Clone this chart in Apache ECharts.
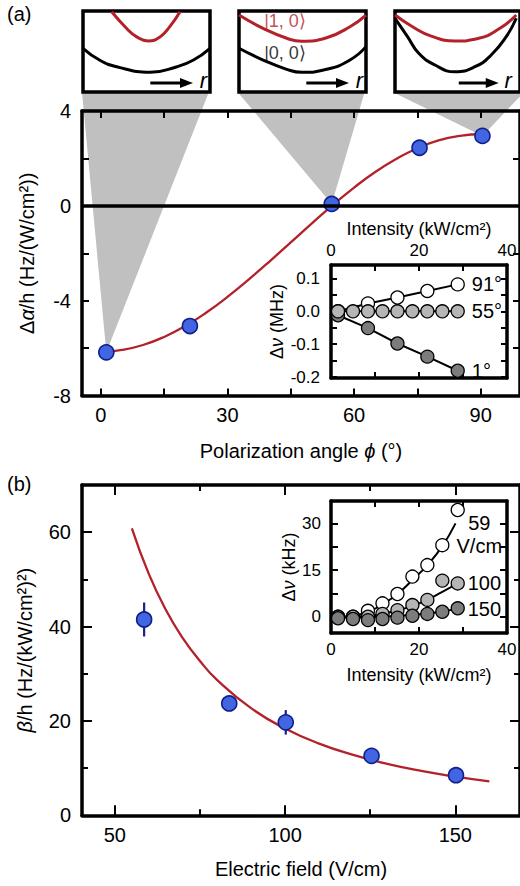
<!DOCTYPE html>
<html><head><meta charset="utf-8">
<script src="https://cdn.jsdelivr.net/npm/echarts@6/dist/echarts.min.js"></script>
<style>html,body{margin:0;padding:0;background:#fff}#c{width:520px;height:886px}</style>
</head><body><div id="c"></div>
<script>
// ================= DATA =================
// (a) main: polarizability difference vs polarization angle
const phiPoints = [1.3, 21.1, 54.7, 75.5, 90.4];
const dAlphaPoints = [-6.18, -5.07, 0.08, 2.45, 2.95];
const phiCurve = [1, 5, 10, 15, 20, 25, 30, 35, 40, 45, 50, 55, 60, 65, 70, 75, 80, 85, 90, 92];
const dAlphaCurve = [-6.15, -6.08, -5.87, -5.53, -5.07, -4.50, -3.84, -3.11, -2.34, -1.54, -0.74, 0.04, 0.77, 1.43, 1.98, 2.43, 2.76, 2.95, 3.02, 3.02];
// (a) shaded wedges linking the potential sketches to data points
const wedgeApexPhi = [1.3, 54.7, 90.4];
const wedgeApexVal = [-6.18, 0.08, 2.95];
const wedgeBaseLeft = [-4.46, 32.4, 69.1];
const wedgeBaseRight = [25.6, 62.5, 100.3];
const wedgeBaseVal = 4.8;
// (a) axis ticks
const phiTicks = [0, 15, 30, 45, 60, 75, 90];
const phiLabels = [0, 30, 60, 90];
const alphaTicks = [-8, -6, -4, -2, 0, 2, 4];
const alphaLabels = [-8, -4, 0, 4];
// (a) potential sketches (normalized r, energy) for the three boxes
const pot1Red = [[0.226,0.99],[0.344,0.784],[0.423,0.68],[0.514,0.63],[0.606,0.68],[0.685,0.81],[0.764,0.99]];
const pot1Black = [[0,0.54],[0.13,0.395],[0.265,0.312],[0.53,0.243],[0.74,0.312],[0.87,0.395],[1,0.54]];
const pot2Red = [[0,0.95],[0.19,0.786],[0.376,0.663],[0.494,0.627],[0.69,0.67],[0.874,0.806],[1,0.95]];
const pot2Black = [[0,0.54],[0.19,0.395],[0.376,0.28],[0.494,0.243],[0.69,0.28],[0.874,0.395],[1,0.56]];
const pot3Red = [[0,0.95],[0.14,0.806],[0.29,0.69],[0.48,0.63],[0.67,0.663],[0.84,0.786],[0.97,0.95]];
const pot3Black = [[0,0.91],[0.1,0.683],[0.19,0.478],[0.32,0.333],[0.48,0.25],[0.64,0.312],[0.77,0.457],[0.89,0.683],[0.97,0.91]];
const stateLabels = ['|1, 0\u27E9', '|0, 0\u27E9'];
// (a) inset: frequency shift vs intensity
const intensityA = [1.6, 8.4, 15.1, 21.9, 28.8];
const shift91 = [0, 0.024, 0.042, 0.062, 0.082];
const shift1 = [-0.012, -0.051, -0.098, -0.138, -0.181];
const intensityA55 = [1.6, 5.0, 8.4, 11.7, 15.1, 18.5, 21.9, 25.3, 28.8];
const shift55 = [0, 0, 0, 0, 0, 0, 0, 0, 0];
const angleLabels = ['91°', '55°', '1°'];
const intTicks = [10, 20, 30];
const intLabels = [0, 20, 40];
const mhzTicks = [-0.2, -0.15, -0.1, -0.05, 0, 0.05, 0.1];
const mhzLabels = [-0.2, -0.1, 0, 0.1];
// (b) main: beta vs electric field
const fieldPoints = [58.6, 83.6, 100.2, 125.4, 150.2];
const betaPoints = [41.5, 23.7, 19.7, 12.6, 8.5];
const betaErr = [3.6, 1.0, 2.6, 0.6, 0.6];
const fieldCurve = [55, 60, 65, 70, 75, 80, 90, 100, 110, 120, 130, 140, 150, 160];
const betaCurve = [60.8, 51.1, 43.5, 37.5, 32.7, 28.7, 22.7, 18.4, 15.2, 12.8, 10.9, 9.4, 8.2, 7.2];
const fieldMajor = [50, 100, 150];
const fieldMinor = [75, 125];
const betaMajor = [20, 40, 60];
const betaMinor = [10, 30, 50];
const betaLabels = [0, 20, 40, 60];
// (b) inset: frequency shift vs intensity at three fields
const intensityB = [1.6, 5.0, 8.4, 11.7, 15.1, 18.5, 21.9, 25.3, 28.8];
const shift59 = [0, 0, 1.9, 4.3, 7.3, 12.9, 16.6, 23.0, 34.3];
const shift100 = [0, 0, 0, 0.9, 2.1, 3.75, 5.4, 11.6, 10.7];
const shift150 = [-0.5, -0.75, -1.1, -0.75, -0.3, 0.3, 0.9, 1.6, 2.7];
const fit59I = [1.6, 5.0, 8.4, 11.7, 15.1, 18.5, 21.9, 25.3, 28.3];
const fit59V = [0, 0.3, 1.5, 4.0, 7.3, 11.8, 16.6, 22.7, 30.0];
const fit100I = [1.6, 5.0, 8.4, 11.7, 15.1, 18.5, 21.9, 25.3, 28.8];
const fit100V = [0, 0, 0.3, 1.0, 2.0, 3.5, 5.4, 8.0, 10.7];
const fit150I = [1.6, 5.0, 8.4, 11.7, 15.1, 18.5, 21.9, 25.3, 28.8];
const fit150V = [-0.3, -0.3, -0.2, 0, 0.3, 0.6, 1.0, 1.7, 2.6];
const fieldLabels = ['59', 'V/cm', '100', '150'];
const khzTicks = [0, 7.5, 15, 22.5, 30];
const khzLabels = [0, 15, 30];

// ================= CHART =================
const FF = '"Liberation Sans", Arial, Helvetica, sans-serif';
const RED = '#b3212a';
const zip = (a, b) => a.map((v, i) => [v, b[i]]);

function ax(o) {
  return {
    type: 'value', gridIndex: o.g, position: o.pos, min: o.min, max: o.max, z: o.z || 3,
    axisLine: { show: o.line !== false, onZero: false, lineStyle: { color: '#000', width: 3.5 } },
    axisTick: { show: !!o.ticks, inside: true, customValues: o.ticks || [], length: o.tl || 7, lineStyle: { color: '#000', width: 2 } },
    axisLabel: o.labels ? { show: true, customValues: o.labels, margin: o.lm, fontSize: o.fs || 20, color: '#000', fontFamily: FF,
      formatter: o.fmt || (v => String(v)) } : { show: false },
    splitLine: { show: false },
    name: o.name || '', nameLocation: 'middle', nameGap: o.ng || 0,
    nameTextStyle: { fontSize: o.nfs || 20, color: '#000', fontFamily: FF,
      rich: { i: { fontStyle: 'italic', fontSize: o.nfs || 20, fontFamily: FF, color: '#000' } } }
  };
}
const hid = g => ({ type: 'value', gridIndex: g, min: 0, max: 1, show: false });

const boxGrid = (left, w) => ({ left: left, top: 11, width: w, height: 81, show: true, borderColor: '#000', borderWidth: 3.5, backgroundColor: '#fff', z: 4 });

const xAxes = [
  hid(0), hid(1), hid(2),
  ax({ g: 3, pos: 'bottom', min: -4.46, max: 99.3, ticks: phiTicks, labels: phiLabels, lm: 9, name: 'Polarization angle {i|\u03D5} (°)', ng: 45 }),
  ax({ g: 3, pos: 'top', min: -4.46, max: 99.3, ticks: phiTicks }),
  ax({ g: 4, pos: 'top', min: 0, max: 40, ticks: intTicks, tl: 6, labels: intLabels, lm: 6, fs: 17, name: 'Intensity (kW/cm²)', nfs: 18, ng: 27, z: 5 }),
  ax({ g: 4, pos: 'bottom', min: 0, max: 40, ticks: intTicks, tl: 6, z: 5 }),
  ax({ g: 5, pos: 'bottom', min: 40.35, max: 169, ticks: fieldMajor, tl: 10, labels: fieldMajor, lm: 10, name: 'Electric field (V/cm)', ng: 44 }),
  ax({ g: 5, pos: 'top', min: 40.35, max: 169, ticks: fieldMajor, tl: 10 }),
  ax({ g: 6, pos: 'bottom', min: 40.35, max: 169, ticks: fieldMinor, tl: 6, line: false }),
  ax({ g: 6, pos: 'top', min: 40.35, max: 169, ticks: fieldMinor, tl: 6, line: false }),
  ax({ g: 7, pos: 'bottom', min: 0, max: 40, ticks: intTicks, tl: 6, labels: intLabels, lm: 8, fs: 17, name: 'Intensity (kW/cm²)', nfs: 18, ng: 33, z: 5 }),
  ax({ g: 7, pos: 'top', min: 0, max: 40, ticks: intTicks, tl: 6, z: 5 })
];
const yAxes = [
  hid(0), hid(1), hid(2),
  ax({ g: 3, pos: 'left', min: -8, max: 4, ticks: alphaTicks, labels: alphaLabels, lm: 11, name: '\u0394{i|\u03B1}/h (Hz/(W/cm²))', ng: 45 }),
  ax({ g: 3, pos: 'right', min: -8, max: 4, ticks: alphaTicks }),
  ax({ g: 4, pos: 'left', min: -0.203, max: 0.141, ticks: mhzTicks, tl: 6, labels: mhzLabels, lm: 11, fs: 17, fmt: v => Number(v).toFixed(1),
       name: '\u0394{i|\u03BD} (MHz)', nfs: 18, ng: 45, z: 5 }),
  ax({ g: 4, pos: 'right', min: -0.203, max: 0.141, ticks: mhzTicks, tl: 6, z: 5 }),
  ax({ g: 5, pos: 'left', min: 0, max: 70, ticks: betaMajor, tl: 10, labels: betaLabels, lm: 11, name: '{i|\u03B2}/h (Hz/(kW/cm²)²)', ng: 47 }),
  ax({ g: 5, pos: 'right', min: 0, max: 70, ticks: betaMajor, tl: 10 }),
  ax({ g: 6, pos: 'left', min: 0, max: 70, ticks: betaMinor, tl: 6, line: false }),
  ax({ g: 6, pos: 'right', min: 0, max: 70, ticks: betaMinor, tl: 6, line: false }),
  ax({ g: 7, pos: 'left', min: -5.24, max: 37.2, ticks: khzTicks, tl: 7, labels: khzLabels, lm: 10, fs: 17, name: '\u0394{i|\u03BD} (kHz)', nfs: 18, ng: 31, z: 5 }),
  ax({ g: 7, pos: 'right', min: -5.24, max: 37.2, ticks: khzTicks, tl: 7, z: 5 })
];

function potSeries(i, data, color) {
  return { type: 'line', xAxisIndex: i, yAxisIndex: i, data: data, smooth: true, symbol: 'none', z: 5,
    lineStyle: { color: color, width: 3 }, silent: true, animation: false };
}
function arrowSeries(i, rel) {
  return { type: 'custom', xAxisIndex: i, yAxisIndex: i, z: 6, silent: true, clip: false,
    data: [rel],
    renderItem: (params, api) => {
      const p0 = api.coord([api.value(0), api.value(2)]);
      const p1 = api.coord([api.value(1), api.value(2)]);
      const pr = api.coord([api.value(3), api.value(2)]);
      return { type: 'group', children: [
        { type: 'line', shape: { x1: p0[0], y1: p0[1], x2: p1[0] - 6, y2: p1[1] }, style: { stroke: '#000', lineWidth: 3 } },
        { type: 'polygon', shape: { points: [[p1[0], p1[1]], [p1[0] - 13, p1[1] - 5], [p1[0] - 13, p1[1] + 5]] }, style: { fill: '#000' } },
        { type: 'text', style: { text: 'r', x: pr[0], y: pr[1] - 3, font: 'italic 22px "Liberation Sans", Arial, sans-serif', fill: '#000', align: 'center', verticalAlign: 'middle' } }
      ] };
    }
  };
}
function insetLine(xi, data, fill, label, z) {
  const d = data.map((p, k) => k === data.length - 1 && label ?
    { value: p, label: { show: true, position: 'right', distance: 7, formatter: label, fontSize: 20, fontFamily: FF, color: '#000' } } : p);
  return { type: 'line', xAxisIndex: xi, yAxisIndex: xi, data: d, symbol: 'circle', symbolSize: 13, z: z, silent: true,
    lineStyle: { color: '#000', width: 2 }, itemStyle: { color: fill, borderColor: '#000', borderWidth: 1.3 }, animation: false };
}
function fitLine(xi, data, endLabel) {
  return { type: 'line', xAxisIndex: xi, yAxisIndex: xi, data: data, smooth: true, symbol: 'none', z: 6, silent: true,
    lineStyle: { color: '#000', width: 2 }, animation: false,
    endLabel: Object.assign({ show: true, distance: 10, fontSize: 20, fontFamily: FF, color: '#000' }, endLabel) };
}
function insetScatter(xi, data, fill) {
  return { type: 'scatter', xAxisIndex: xi, yAxisIndex: xi, data: data, symbolSize: 13, z: 7, silent: true,
    itemStyle: { color: fill, borderColor: '#000', borderWidth: 1.3, opacity: 1 }, animation: false };
}

const option = {
  animation: false,
  backgroundColor: '#fff',
  textStyle: { fontFamily: FF },
  title: [
    { text: '(a)', left: 7, top: 4, padding: 0, textStyle: { fontSize: 20, fontWeight: 'normal', fontFamily: FF, color: '#000' } },
    { text: '(b)', left: 7, top: 474, padding: 0, textStyle: { fontSize: 20, fontWeight: 'normal', fontFamily: FF, color: '#000' } }
  ],
  grid: [
    boxGrid(83, 127), boxGrid(239, 127), boxGrid(395, 132),
    { left: 82, top: 111, width: 441.5, height: 284.5 },
    { left: 331, top: 265, width: 176, height: 113, show: true, borderWidth: 0, backgroundColor: '#fff', z: 4 },
    { left: 82, top: 485, width: 440, height: 330.3 },
    { left: 82, top: 485, width: 440, height: 330.3 },
    { left: 331, top: 501, width: 176, height: 132, show: true, borderWidth: 0, backgroundColor: '#fff', z: 4 }
  ],
  xAxis: xAxes,
  yAxis: yAxes,
  series: [
    // potential sketches
    potSeries(0, pot1Black, '#000'), potSeries(0, pot1Red, RED), arrowSeries(0, [0.53, 0.866, 0.11, 0.948]),
    potSeries(1, pot2Black, '#000'), potSeries(1, pot2Red, RED), arrowSeries(1, [0.53, 0.866, 0.11, 0.948]),
    potSeries(2, pot3Black, '#000'), potSeries(2, pot3Red, RED), arrowSeries(2, [0.51, 0.83, 0.11, 0.905]),
    { type: 'scatter', xAxisIndex: 1, yAxisIndex: 1, z: 6, silent: true, symbolSize: 2,
      itemStyle: { color: 'rgba(0,0,0,0)', borderWidth: 0 },
      data: [
        { value: [0.19, 0.875], label: { show: true, position: 'right', distance: 0, formatter: stateLabels[0], color: RED, fontSize: 18, fontFamily: FF } },
        { value: [0.19, 0.48], label: { show: true, position: 'right', distance: 0, formatter: stateLabels[1], color: '#000', fontSize: 18, fontFamily: FF } }
      ] },
    // (a) wedges
    { type: 'custom', xAxisIndex: 3, yAxisIndex: 3, z: 1, clip: false, silent: true,
      data: wedgeApexPhi.map((p, i) => [p, wedgeApexVal[i], wedgeBaseLeft[i], wedgeBaseRight[i], wedgeBaseVal]),
      renderItem: (params, api) => {
        const a = api.coord([api.value(0), api.value(1)]);
        const l = api.coord([api.value(2), api.value(4)]);
        const r = api.coord([api.value(3), api.value(4)]);
        return { type: 'polygon', shape: { points: [l, r, a] }, style: { fill: '#c0c0c0' } };
      } },
    // (a) curve + zero line
    { type: 'line', xAxisIndex: 3, yAxisIndex: 3, data: zip(phiCurve, dAlphaCurve), smooth: true, symbol: 'none', z: 2, silent: true,
      lineStyle: { color: RED, width: 2.3 },
      markLine: { silent: true, symbol: ['none', 'none'], label: { show: false }, lineStyle: { color: '#000', width: 3.5, type: 'solid' },
        data: [{ yAxis: 0 }] } },
    { type: 'scatter', xAxisIndex: 3, yAxisIndex: 3, data: zip(phiPoints, dAlphaPoints), symbolSize: 15, z: 4, silent: true,
      itemStyle: { color: '#4265e2', borderColor: '#101e8a', borderWidth: 1.6, opacity: 1 } },
    // (a) inset
    insetLine(5, zip(intensityA, shift91), '#ffffff', angleLabels[0], 6),
    insetLine(5, zip(intensityA, shift1), '#7c7c7c', angleLabels[2], 6),
    insetLine(5, zip(intensityA55, shift55), '#b5b5b5', angleLabels[1], 7),
    // (b) error bars, curve, points
    { type: 'custom', xAxisIndex: 7, yAxisIndex: 7, z: 2, silent: true,
      data: fieldPoints.map((f, i) => [f, betaPoints[i], betaErr[i]]),
      renderItem: (params, api) => {
        const x = api.value(0), y = api.value(1), e = api.value(2);
        const p1 = api.coord([x, y - e]), p2 = api.coord([x, y + e]);
        return { type: 'line', shape: { x1: p1[0], y1: p1[1], x2: p2[0], y2: p2[1] }, style: { stroke: '#142291', lineWidth: 2.2 } };
      } },
    { type: 'line', xAxisIndex: 7, yAxisIndex: 7, data: zip(fieldCurve, betaCurve), smooth: true, symbol: 'none', z: 2, silent: true,
      lineStyle: { color: RED, width: 2.3 } },
    { type: 'scatter', xAxisIndex: 7, yAxisIndex: 7, data: zip(fieldPoints, betaPoints), symbolSize: 15, z: 4, silent: true,
      itemStyle: { color: '#4265e2', borderColor: '#101e8a', borderWidth: 1.6, opacity: 1 } },
    // (b) inset
    fitLine(11, zip(fit59I, fit59V), { distance: 1, offset: [0, 11], formatter: '{a|' + fieldLabels[0] + '}\n{a|' + fieldLabels[1] + '}',
      rich: { a: { fontSize: 20, fontFamily: FF, color: '#000', align: 'center', lineHeight: 23 } } }),
    fitLine(11, zip(fit100I, fit100V), { formatter: fieldLabels[2] }),
    fitLine(11, zip(fit150I, fit150V), { formatter: fieldLabels[3] }),
    insetScatter(11, zip(intensityB, shift59), '#ffffff'),
    insetScatter(11, zip(intensityB, shift100), '#b5b5b5'),
    insetScatter(11, zip(intensityB, shift150), '#7c7c7c')
  ]
};
const chart = echarts.init(document.getElementById('c'), null, { renderer: 'svg', width: 520, height: 886 });
chart.setOption(option);
</script>
</body></html>
